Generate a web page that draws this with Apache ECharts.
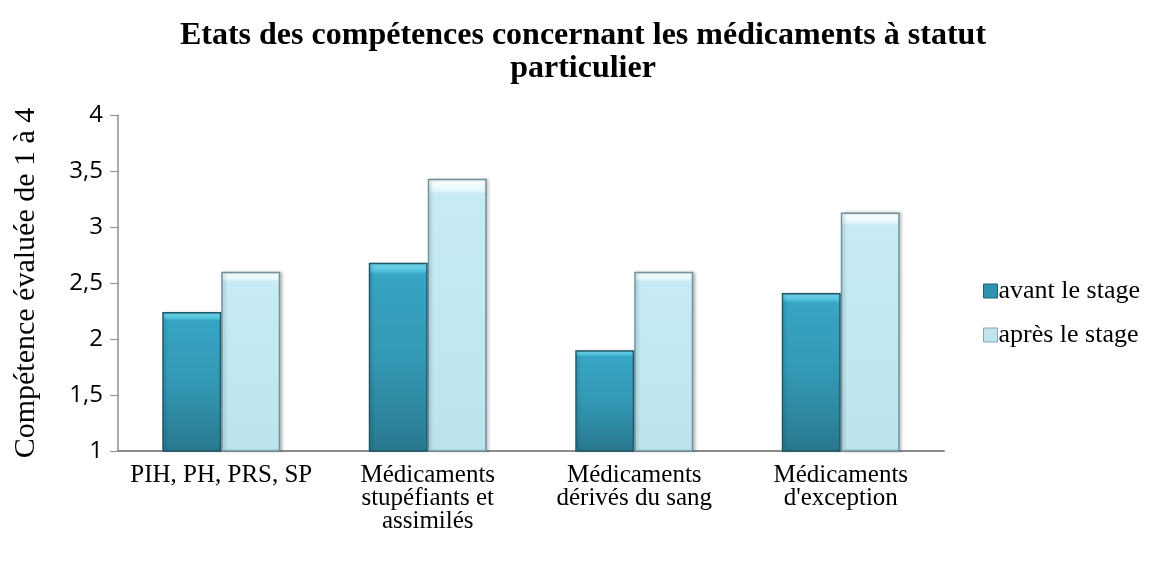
<!DOCTYPE html>
<html><head><meta charset="utf-8">
<script src="https://cdn.jsdelivr.net/npm/echarts@6/dist/echarts.min.js"></script>
<style>html,body{margin:0;padding:0;background:#fff}#c{width:1154px;height:564px}</style>
</head><body><div id="c"></div>
<script>
const categories = ["PIH, PH, PRS, SP", "Médicaments\nstupéfiants et\nassimilés", "Médicaments\ndérivés du sang", "Médicaments\nd'exception"];
const avant = [2.24, 2.68, 1.90, 2.41];
const apres = [2.60, 3.43, 2.60, 3.13];
const seriesNames = ["avant le stage", "après le stage"];
const yTicks = {min: 1, max: 4, interval: 0.5};

const chart = echarts.init(document.getElementById('c'));
const darkGrad = new echarts.graphic.LinearGradient(0,0,0,1,[
  {offset:0, color:'#7adcf0'},{offset:0.045, color:'#4fc0dc'},{offset:0.06, color:'#37a5c4'},{offset:0.5, color:'#3399b5'},{offset:1, color:'#29788e'}]);
const lightGrad = new echarts.graphic.LinearGradient(0,0,0,1,[
  {offset:0, color:'#ffffff'},{offset:0.04, color:'#e6f7fb'},{offset:0.055, color:'#c6ebf4'},{offset:1, color:'#bde4ee'}]);
chart.setOption({
  animation:false,
  title:{text:"Etats des compétences concernant les médicaments à statut\nparticulier", left:578, top:14, textAlign:'center',
    textStyle:{fontFamily:'Liberation Serif', fontWeight:'bold', fontSize:32, lineHeight:33, color:'#000'}},
  legend:{orient:'vertical', left:978, top:273, itemGap:18, itemWidth:14, itemHeight:14,
    textStyle:{fontFamily:'Liberation Serif', fontSize:26, color:'#000', padding:[0,0,0,-4]},
    data:[{name:seriesNames[0], icon:'rect', itemStyle:{color:'#2f93b0', borderColor:'#1f6275', borderWidth:1}},
          {name:seriesNames[1], icon:'rect', itemStyle:{color:'#c2e4ec', borderColor:'#7fa9b5', borderWidth:1}}]},
  grid:{left:118, right:210, top:115, bottom:113},
  xAxis:{type:'category', data:categories,
    axisLine:{lineStyle:{color:'#8c8c8c', width:2}}, axisTick:{show:false},
    axisLabel:{fontFamily:'Liberation Serif', fontSize:25, lineHeight:23, color:'#000', margin:13, interval:0}},
  yAxis:{type:'value', min:yTicks.min, max:yTicks.max, interval:yTicks.interval,
    name:'Compétence évaluée de 1 à 4', nameLocation:'middle', nameGap:77,
    nameTextStyle:{fontFamily:'Liberation Serif', fontSize:30, color:'#000'},
    axisLine:{show:true, lineStyle:{color:'#8c8c8c', width:1.5}},
    axisTick:{show:true, length:8, lineStyle:{color:'#8c8c8c'}},
    splitLine:{show:false},
    axisLabel:{fontFamily:'Open Sans', fontSize:24, color:'#000', margin:15,
      formatter:v=>String(v).replace('.',',')}},
  series:[
    {name:seriesNames[0], type:'bar', data:avant, barWidth:59, barGap:'0%',
      itemStyle:{color:darkGrad, borderColor:'#1d5868', borderWidth:1.5,
        shadowColor:'rgba(0,0,0,0.18)', shadowBlur:3, shadowOffsetX:2}},
    {name:seriesNames[1], type:'bar', data:apres, barWidth:59,
      itemStyle:{color:lightGrad, borderColor:'#6f929c', borderWidth:1.5,
        shadowColor:'rgba(0,0,0,0.22)', shadowBlur:3, shadowOffsetX:2}}
  ]
});
</script></body></html>
